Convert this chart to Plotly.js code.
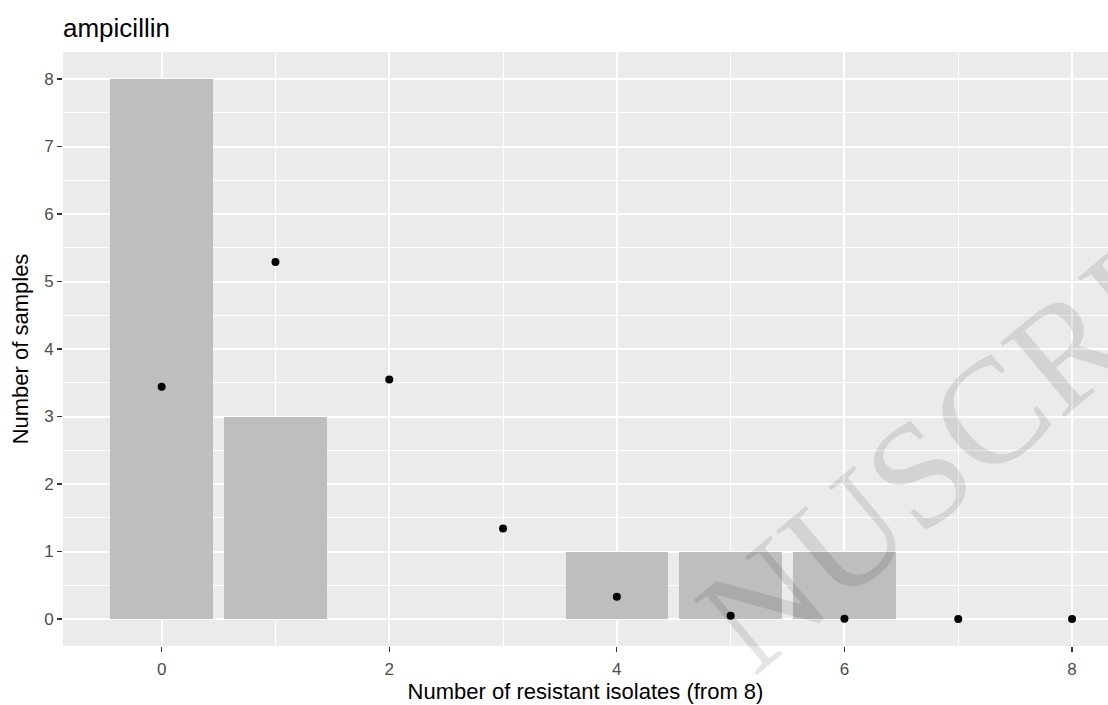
<!DOCTYPE html>
<html>
<head>
<meta charset="utf-8">
<script src="https://cdn.plot.ly/plotly-3.0.1.min.js"></script>
<style>
  html, body { margin: 0; padding: 0; background: #ffffff; }
  #chart { width: 1108px; height: 705px; }
</style>
</head>
<body>
<div id="chart"></div>
<script>
// Number of resistant isolates (out of 8) per sample
const resistantCounts = [0, 1, 2, 3, 4, 5, 6, 7, 8];
// Observed number of samples at each count
const observedSamples = [8, 3, 0, 0, 1, 1, 1, 0, 0];
// Expected number of samples at each count (fitted distribution)
const expectedSamples = [3.44, 5.29, 3.55, 1.34, 0.33, 0.05, 0.005, 0.0003, 0];

const xTicks = [0, 2, 4, 6, 8];
const yTicks = [0, 1, 2, 3, 4, 5, 6, 7, 8];

const chartTitle = 'ampicillin';
const xTitle = 'Number of resistant isolates (from 8)';
const yTitle = 'Number of samples';
const watermarkText = 'NUSCRIPT';

const FONT = '"Liberation Sans", Arial, sans-serif';

const traces = [
  {
    type: 'bar',
    x: resistantCounts,
    y: observedSamples,
    width: 0.9,
    marker: { color: '#bebebe', line: { width: 0 } },
    hoverinfo: 'x+y'
  },
  {
    type: 'scatter',
    mode: 'markers',
    x: resistantCounts,
    y: expectedSamples,
    marker: { color: '#000000', size: 8 },
    cliponaxis: false,
    hoverinfo: 'x+y'
  }
];

const axisCommon = {
  showline: false,
  zeroline: false,
  showgrid: true,
  gridcolor: '#ffffff',
  gridwidth: 2,
  ticks: 'outside',
  ticklen: 5,
  tickwidth: 1.3,
  tickcolor: '#333333',
  tickfont: { family: FONT, size: 17, color: '#4d4d4d' },
  automargin: false,
  fixedrange: true
};

const layout = {
  width: 1108,
  height: 705,
  margin: { l: 63, r: 0, t: 52, b: 59, pad: 0 },
  paper_bgcolor: '#ffffff',
  plot_bgcolor: '#ebebeb',
  showlegend: false,
  bargap: 0,
  title: {
    text: chartTitle,
    font: { family: FONT, size: 26, color: '#000000' },
    xref: 'paper', x: 0, xanchor: 'left',
    yref: 'container', y: 1 - 28 / 705, yanchor: 'middle'
  },
  xaxis: Object.assign({}, axisCommon, {
    range: [-0.867, 8.316],
    tickmode: 'array',
    tickvals: xTicks,
    ticktext: xTicks.map(String),
    ticklabelstandoff: 3,
    minor: { dtick: 1, tick0: 0, showgrid: true, gridcolor: '#ffffff', gridwidth: 1, ticks: '' },
    title: {
      text: xTitle,
      font: { family: FONT, size: 22, color: '#000000' },
      standoff: 4
    }
  }),
  yaxis: Object.assign({}, axisCommon, {
    range: [-0.4, 8.4],
    tickmode: 'array',
    tickvals: yTicks,
    ticktext: yTicks.map(String),
    ticklabelstandoff: 0,
    minor: { dtick: 0.5, tick0: 0, showgrid: true, gridcolor: '#ffffff', gridwidth: 1, ticks: '' },
    title: {
      text: yTitle,
      font: { family: FONT, size: 22, color: '#000000' },
      standoff: 9
    }
  }),
  annotations: [
    {
      // diagonal watermark across the lower right of the panel
      text: watermarkText,
      xref: 'paper', yref: 'paper',
      x: 0.895, y: 0.404,
      xanchor: 'center', yanchor: 'middle',
      showarrow: false,
      textangle: -40,
      font: { family: '"Liberation Serif", "Times New Roman", serif', size: 150, color: 'rgba(0,0,0,0.1)' }
    }
  ]
};

Plotly.newPlot('chart', traces, layout, { staticPlot: true, displayModeBar: false });
</script>
</body>
</html>
